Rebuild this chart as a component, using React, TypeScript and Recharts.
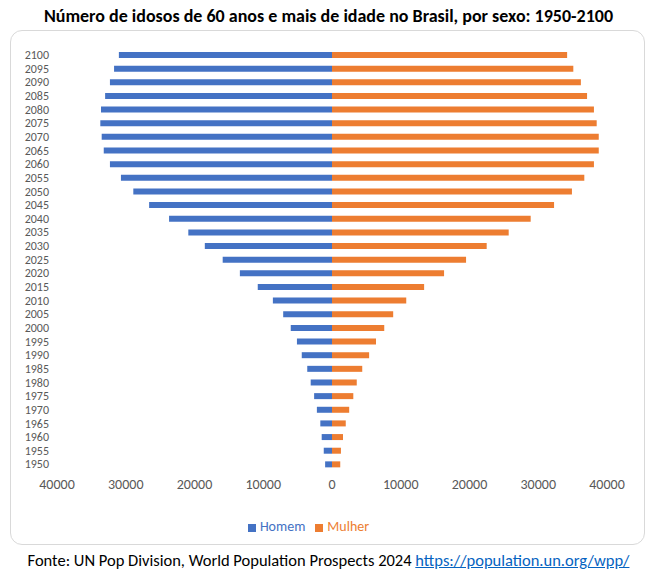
import React from "react";
import { BarChart, Bar, XAxis, YAxis, Legend } from "recharts";

const years = [2100,2095,2090,2085,2080,2075,2070,2065,2060,2055,2050,2045,2040,2035,2030,2025,2020,2015,2010,2005,2000,1995,1990,1985,1980,1975,1970,1965,1960,1955,1950];
const homem = [31.0,31.7,32.3,33.0,33.6,33.7,33.5,33.2,32.3,30.7,28.9,26.6,23.7,20.9,18.5,15.9,13.4,10.8,8.6,7.1,6.0,5.1,4.4,3.6,3.1,2.6,2.2,1.7,1.5,1.2,1.0];
const mulher = [34.2,35.1,36.2,37.1,38.1,38.5,38.8,38.8,38.1,36.7,34.9,32.3,28.9,25.7,22.5,19.5,16.3,13.4,10.8,8.9,7.6,6.4,5.4,4.4,3.6,3.1,2.5,2.0,1.6,1.3,1.2];
const xTicks = [-40000,-30000,-20000,-10000,0,10000,20000,30000,40000];

const data = years.map((y, i) => ({ year: String(y), Homem: -homem[i] * 1000, Mulher: mulher[i] * 1000 }));

export default function App() {
  const font = "Calibri, Carlito, Lato, 'Liberation Sans', Arial, sans-serif";
  return (
    <div style={{ position: "absolute", left: 0, top: 0, width: 657, height: 577, background: "#fff", fontFamily: font }}>
      <div style={{ position: "absolute", top: 5, width: 657, textAlign: "center", fontWeight: "bold", fontSize: 18, color: "#000", whiteSpace: "nowrap" }}>
        Número de idosos de 60 anos e mais de idade no Brasil, por sexo: 1950-2100
      </div>
      <div style={{ position: "absolute", left: 10, top: 30, width: 635, height: 515, border: "1px solid #d9d9d9", borderRadius: 12, boxSizing: "border-box" }} />
      <div style={{ position: "absolute", left: 10, top: 30 }}>
        <BarChart width={635} height={515} data={data} layout="vertical" stackOffset="sign" barCategoryGap={4}
          margin={{ top: 18, right: 38, bottom: 27, left: 10 }}>
          <XAxis type="number" domain={[-40000, 40000]} ticks={xTicks} tickFormatter={(v: number) => String(Math.abs(v))}
            axisLine={false} tickLine={false} height={30} tick={{ fontSize: 14, fill: "#595959", fontFamily: font }} />
          <YAxis type="category" dataKey="year" width={37} axisLine={false} tickLine={false} interval={0}
            tick={{ fontSize: 12, fill: "#595959", fontFamily: font }} />
          <Legend verticalAlign="bottom" iconType="square" iconSize={8} wrapperStyle={{ bottom: 10, fontSize: 14, color: "#595959" }} />
          <Bar dataKey="Homem" stackId="a" fill="#4472C4" barSize={6} isAnimationActive={false} />
          <Bar dataKey="Mulher" stackId="a" fill="#ED7D31" barSize={6} isAnimationActive={false} />
        </BarChart>
      </div>
      <div style={{ position: "absolute", top: 550, width: 657, textAlign: "center", fontSize: 16.5, color: "#000", whiteSpace: "nowrap" }}>
        Fonte: UN Pop Division, World Population Prospects 2024 <a href="https://population.un.org/wpp/" style={{ color: "#0563C1" }}>https://population.un.org/wpp/</a>
      </div>
    </div>
  );
}
